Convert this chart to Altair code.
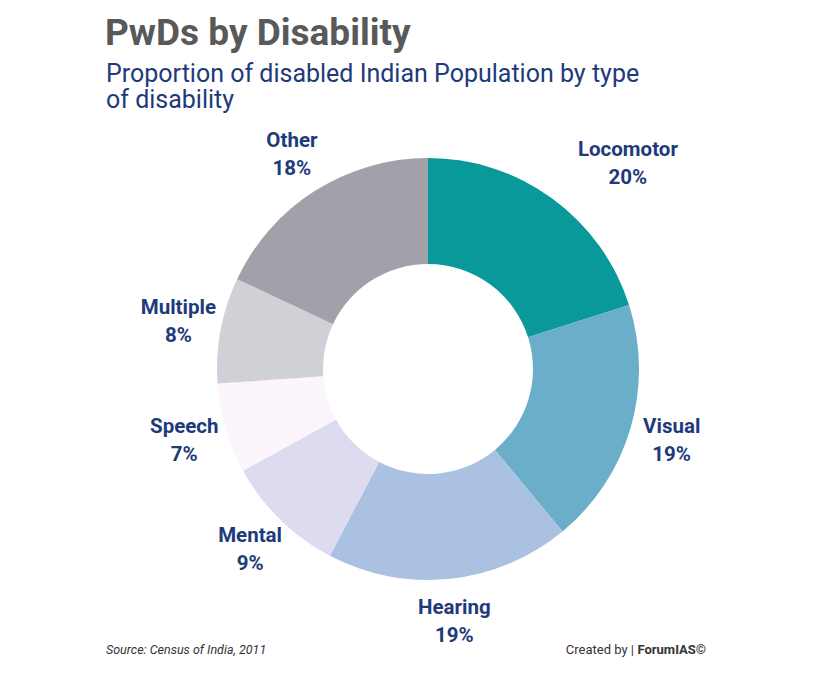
import altair as alt
import pandas as pd

categories = ["Locomotor", "Visual", "Hearing", "Mental", "Speech", "Multiple", "Other"]
values = [20.1, 18.9, 18.7, 9.3, 6.9, 8.1, 18.0]
pct_labels = ["20%", "19%", "19%", "9%", "7%", "8%", "18%"]
colors = ["#0a999b", "#6aaec9", "#aac1e1", "#dcdbef", "#fcf5fb", "#d0d0d7", "#a1a2a9"]

title_text = "PwDs by Disability"
subtitle_lines = ["Proportion of disabled Indian Population by type", "of disability"]
source_text = "Source: Census of India, 2011"
credit_text = "Created by |"
credit_brand = "ForumIAS©"

df = pd.DataFrame({
    "category": categories,
    "value": values,
    "idx": list(range(len(categories))),
    "label": [f"{c}\n{p}" for c, p in zip(categories, pct_labels)],
})

NAVY = "#1e3a7a"
CX, CY = 420, 361

base = alt.Chart(df).encode(
    theta=alt.Theta("value:Q", stack=True),
    order=alt.Order("idx:Q"),
)

arcs = base.mark_arc(outerRadius=211, innerRadius=105).encode(
    x=alt.value(CX),
    y=alt.value(CY),
    color=alt.Color("category:N", scale=alt.Scale(domain=categories, range=colors), legend=None),
)

label_style = dict(radius=254, font="Roboto", fontWeight="bold", fontSize=20.5,
                   color=NAVY, lineBreak="\n", lineHeight=28, align="center", baseline="middle")

labels = base.mark_text(dy=-14, **label_style).encode(
    x=alt.value(CX),
    y=alt.value(CY),
    text=alt.Text("label:N"),
    opacity=alt.condition(alt.datum.category == "Locomotor", alt.value(0), alt.value(1)),
)

loco_label = base.mark_text(dx=50, dy=-14, **label_style).encode(
    x=alt.value(CX),
    y=alt.value(CY),
    text=alt.Text("label:N"),
    opacity=alt.condition(alt.datum.category == "Locomotor", alt.value(1), alt.value(0)),
)

def note(text, x, y, **kw):
    return alt.Chart(pd.DataFrame({"t": [text]})).mark_text(**kw).encode(
        text="t:N", x=alt.value(x), y=alt.value(y)
    )

title = note(title_text, 97, 37, font="Roboto", fontSize=37, fontWeight="bold",
             color="#595959", align="left", baseline="alphabetic")
sub1 = note(subtitle_lines[0], 98, 74, font="Roboto", fontSize=25, fontWeight=400,
            color=NAVY, align="left", baseline="alphabetic")
sub2 = note(subtitle_lines[1], 98, 100, font="Roboto", fontSize=25, fontWeight=400,
            color=NAVY, align="left", baseline="alphabetic")
source = note(source_text, 98, 642, font="Roboto", fontSize=12.5, fontStyle="italic",
              color="#333333", align="left", baseline="middle")
credit = note(credit_text, 626, 642, font="Roboto", fontSize=13, color="#333333",
              align="right", baseline="middle")
brand = note(credit_brand, 698, 642, font="Roboto", fontSize=13, fontWeight="bold",
             color="#333333", align="right", baseline="middle")

chart = alt.layer(arcs, labels, loco_label, title, sub1, sub2, source, credit, brand).properties(
    width=816, height=661,
    autosize=alt.AutoSizeParams(type="none"),
    padding=0,
    background="white",
).configure_view(stroke=None)

chart.save("out.html", embed_options={"renderer": "svg", "actions": False})
